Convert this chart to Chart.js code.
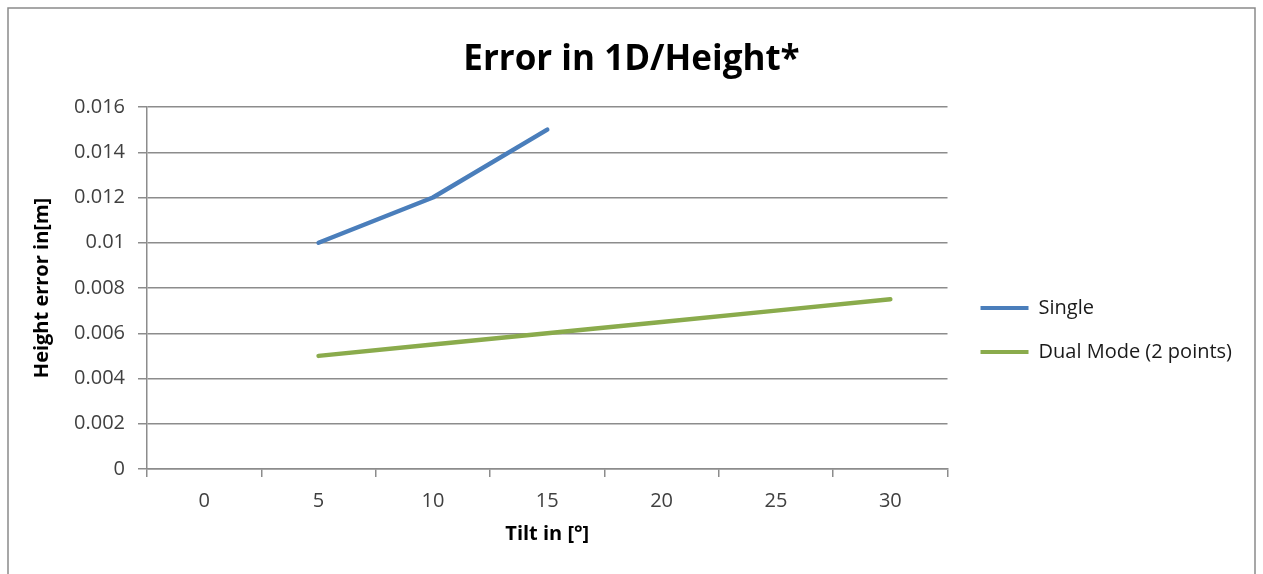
<!DOCTYPE html>
<html><head><meta charset="utf-8">
<script src="https://cdn.jsdelivr.net/npm/chart.js@4.4.1/dist/chart.umd.min.js"></script>
<style>html,body{margin:0;padding:0;background:#fff;overflow:hidden}</style>
</head><body>
<canvas id="c" width="1263" height="574" style="display:block;width:1263px;height:574px"></canvas>
<script>
const categories = ['0', '5', '10', '15', '20', '25', '30'];
const singleValues = [null, 0.010, 0.012, 0.015, null, null, null];
const dualValues = [null, 0.0050, 0.0055, 0.0060, 0.0065, 0.0070, 0.0075];
const yTickLabels = ['0', '0.002', '0.004', '0.006', '0.008', '0.01', '0.012', '0.014', '0.016'];
const seriesNames = ['Single', 'Dual Mode (2 points)'];
const seriesColors = ['#4A7EBB', '#8AAB4C'];
const chartTitle = 'Error in 1D/Height*';
const xTitle = 'Tilt in [°]';
const yTitle = 'Height error in[m]';

const FONT = "'Open Sans', 'Liberation Sans', sans-serif";
const GRID = '#8c8c8c';

const frame = {
  id: 'frame',
  beforeDraw(chart) {
    const ctx = chart.ctx;
    ctx.save();
    ctx.fillStyle = '#fff';
    ctx.fillRect(0, 0, chart.width, chart.height);
    ctx.strokeStyle = '#8a8a8a';
    ctx.lineWidth = 1.5;
    ctx.strokeRect(8, 8, 1247, 620);
    ctx.restore();
  }
};
const boxShift = {
  id: 'boxShift',
  afterLayout(chart) {
    const l = chart.legend;
    const dx = 9, dy = 42;
    l.left += dx; l.right += dx; l.top += dy; l.bottom += dy;
    const t = chart.titleBlock;
    const tx = (chart.width / 2) - (t.left + t.right) / 2;
    t.left += tx; t.right += tx;
  }
};

new Chart(document.getElementById('c'), {
  type: 'line',
  data: {
    labels: categories,
    datasets: [
      { label: seriesNames[0], data: singleValues, borderColor: seriesColors[0], backgroundColor: seriesColors[0] },
      { label: seriesNames[1], data: dualValues, borderColor: seriesColors[1], backgroundColor: seriesColors[1] }
    ]
  },
  plugins: [frame, boxShift],
  options: {
    responsive: false,
    animation: false,
    layout: { padding: { left: 0, top: 0, right: 30, bottom: 0 } },
    elements: {
      line: { borderWidth: 4.5, tension: 0, fill: false, borderCapStyle: 'round', borderJoinStyle: 'round' },
      point: { radius: 0, hoverRadius: 0 }
    },
    spanGaps: false,
    plugins: {
      tooltip: { enabled: false },
      title: {
        display: true, text: chartTitle, color: '#000',
        font: { family: FONT, size: 35, weight: 'bold' },
        padding: { top: 39, bottom: 26 }
      },
      legend: {
        position: 'right', align: 'center', fullSize: false,
        labels: {
          boxWidth: 48, boxHeight: 4, padding: 24, color: '#1a1a1a',
          font: { family: FONT, size: 20 },
          generateLabels(chart) {
            const items = Chart.defaults.plugins.legend.labels.generateLabels(chart);
            items.forEach(it => { it.lineWidth = 0; it.fillStyle = it.strokeStyle; });
            return items;
          }
        }
      }
    },
    scales: {
      x: {
        offset: true,
        grid: { offset: true, drawOnChartArea: false, drawTicks: true, tickLength: 8, color: GRID, lineWidth: 1.5 },
        border: { display: true, color: GRID, width: 1.5 },
        ticks: { color: '#404040', font: { family: FONT, size: 20 }, padding: 12, maxRotation: 0 },
        title: { display: true, text: xTitle, color: '#000', font: { family: FONT, size: 20, weight: 'bold' }, padding: { top: 0, bottom: 28 } },
        afterFit(scale) { scale.height = 105; }
      },
      y: {
        min: 0, max: 0.016,
        grid: { drawTicks: true, tickLength: 9, color: GRID, lineWidth: 1.5 },
        border: { display: true, color: GRID, width: 1.5 },
        ticks: {
          stepSize: 0.002, color: '#404040', font: { family: FONT, size: 20 }, padding: 13,
          callback: (v, i) => yTickLabels[i]
        },
        title: { display: true, text: yTitle, color: '#000', font: { family: FONT, size: 20, weight: 'bold' }, padding: { top: 30, bottom: 0 } },
        afterFit(scale) { scale.width = 147; }
      }
    }
  }
});
</script>
</body></html>
